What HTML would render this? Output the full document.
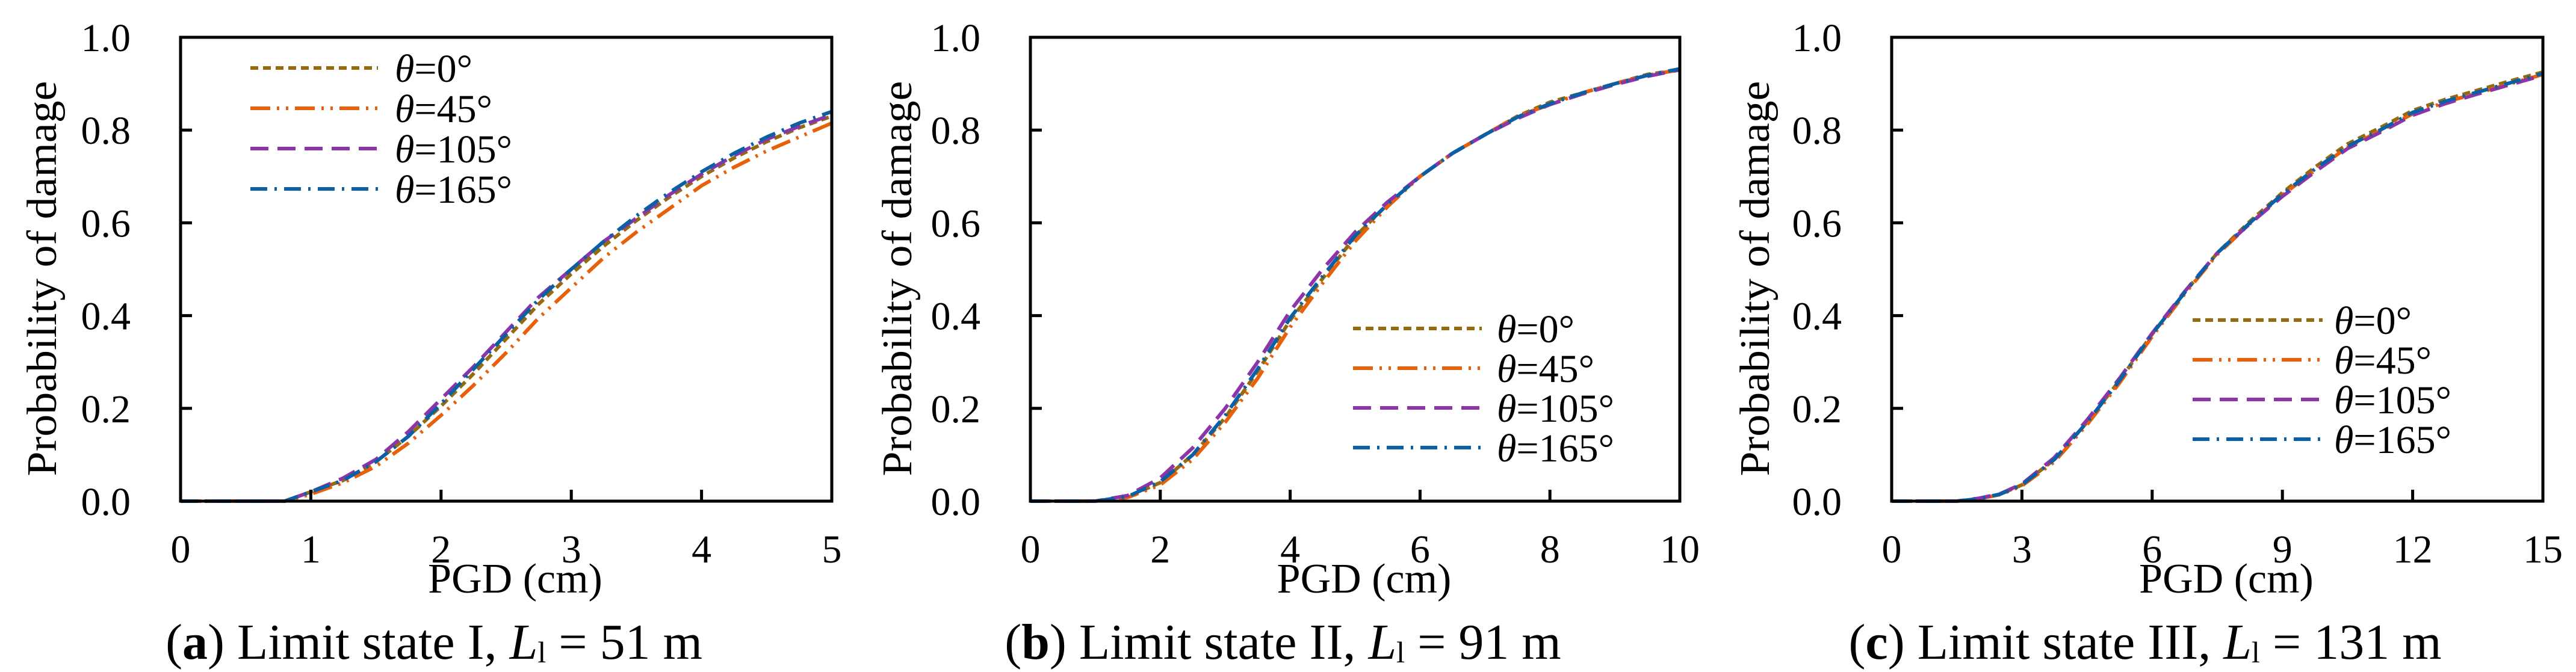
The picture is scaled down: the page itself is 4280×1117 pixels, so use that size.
<!DOCTYPE html>
<html><head><meta charset="utf-8"><style>
html,body{margin:0;padding:0;background:#fff;}
svg{display:block;font-family:"Liberation Serif","Times New Roman",serif;}
svg text{font-family:"Liberation Serif","Times New Roman",serif;}
</style></head><body>
<svg id="fig" width="4280" height="1117" viewBox="0 0 4280 1117" xmlns="http://www.w3.org/2000/svg" font-family="Liberation Serif, serif"></svg>
<script>
// ---- data ----
const seriesLabels = ["0°", "45°", "105°", "165°"];
const xA = [0,0.5,0.8,1,1.25,1.5,1.75,2,2.25,2.5,2.75,3,3.25,3.5,3.75,4,4.25,4.5,4.75,5];
const a0   = [0,0,0,0.02,0.045,0.085,0.14,0.205,0.275,0.35,0.425,0.49,0.55,0.605,0.655,0.70,0.74,0.775,0.805,0.83];
const a45  = [0,0,0,0.015,0.04,0.075,0.125,0.185,0.25,0.32,0.395,0.46,0.525,0.58,0.63,0.68,0.72,0.755,0.785,0.815];
const a105 = [0,0,0,0.02,0.05,0.09,0.15,0.22,0.29,0.365,0.44,0.50,0.56,0.61,0.66,0.705,0.745,0.78,0.808,0.833];
const a165 = [0,0,0,0.02,0.045,0.085,0.14,0.21,0.285,0.36,0.435,0.50,0.56,0.615,0.665,0.71,0.75,0.785,0.815,0.84];
const xB = [0,1,1.5,2,2.5,3,3.5,4,4.5,5,5.5,6,6.5,7,7.5,8,8.5,9,9.5,10];
const b0   = [0,0,0.01,0.04,0.1,0.18,0.28,0.39,0.48,0.57,0.64,0.70,0.75,0.79,0.83,0.86,0.88,0.90,0.92,0.93];
const b45  = [0,0,0.008,0.035,0.09,0.17,0.265,0.375,0.47,0.56,0.635,0.70,0.75,0.79,0.83,0.855,0.88,0.90,0.918,0.93];
const b105 = [0,0,0.012,0.05,0.115,0.2,0.3,0.41,0.5,0.58,0.645,0.70,0.75,0.79,0.825,0.855,0.878,0.898,0.916,0.93];
const b165 = [0,0,0.01,0.042,0.1,0.185,0.285,0.395,0.485,0.572,0.64,0.70,0.75,0.79,0.828,0.857,0.88,0.90,0.918,0.932];
const xC = [0,1.5,2,2.5,3,3.75,4.5,5.25,6,6.75,7.5,8.25,9,9.75,10.5,11.25,12,12.75,13.5,14.25,15];
const c0   = [0,0,0.005,0.015,0.035,0.09,0.17,0.26,0.36,0.45,0.535,0.603,0.665,0.72,0.77,0.805,0.842,0.866,0.886,0.906,0.925];
const c45  = [0,0,0.005,0.014,0.033,0.085,0.165,0.255,0.355,0.447,0.532,0.598,0.66,0.713,0.763,0.798,0.835,0.86,0.88,0.9,0.92];
const c105 = [0,0,0.006,0.016,0.037,0.094,0.175,0.265,0.362,0.452,0.535,0.598,0.657,0.71,0.76,0.795,0.832,0.857,0.878,0.898,0.918];
const c165 = [0,0,0.005,0.015,0.035,0.09,0.17,0.26,0.36,0.45,0.535,0.6,0.662,0.716,0.765,0.8,0.838,0.862,0.882,0.902,0.922];
const xTicksA = [0,1,2,3,4,5];
const xTicksB = [0,2,4,6,8,10];
const xTicksC = [0,3,6,9,12,15];
const yTicks = [0,0.2,0.4,0.6,0.8,1.0];

const NS = "http://www.w3.org/2000/svg";
const FONT = '"Liberation Serif", "Times New Roman", serif';
const svg = document.getElementById('fig');
const colors = ["#946B0F","#E8600A","#8B35A8","#0A5FA5"];
const dashes = ["13 8","33 11 4 11 4 11","30 15","28 12 4 12"];

function mk(tag, attrs, parent){
  const e = document.createElementNS(NS, tag);
  for (const k in attrs) e.setAttribute(k, attrs[k]);
  if (tag === 'text') e.style.fontFamily = FONT;
  (parent||svg).appendChild(e);
  return e;
}

const panels = [
  {id:"a", L:300, R:1382, xmax:5, xs:xA, ys:[a0,a45,a105,a165], ticks:xTicksA,
   leg:{x1:416,x2:628,tx:656,y0:113,dy:67}, ylabX:69, cap:["a","Limit state I, ","51 m"]},
  {id:"b", L:1712, R:2791, xmax:10, xs:xB, ys:[b0,b45,b105,b165], ticks:xTicksB,
   leg:{x1:2248,x2:2462,tx:2487,y0:546,dy:66}, ylabX:1490, cap:["b","Limit state II, ","91 m"]},
  {id:"c", L:3143, R:4225, xmax:15, xs:xC, ys:[c0,c45,c105,c165], ticks:xTicksC,
   leg:{x1:3643,x2:3859,tx:3878,y0:532,dy:66}, ylabX:2915, cap:["c","Limit state III, ","131 m"]}
];
const T = 62, B = 833;

panels.forEach(p => {
  const g = mk('g', {});
  
  
  const sx = v => p.L + (p.R - p.L) * v / p.xmax;
  const sy = v => B - (B - T) * v;

  p.ys.forEach((arr, si) => {
    let d = "";
    arr.forEach((v, i) => { d += (i ? "L" : "M") + sx(p.xs[i]).toFixed(1) + " " + sy(v).toFixed(1); });
    const path = mk('path', {d:d, fill:"none", stroke:colors[si], "stroke-width":6, "stroke-dasharray":dashes[si], "stroke-linejoin":"round"}, g);
    
    
  });

  const fr = mk('rect', {x:p.L, y:T, width:p.R-p.L, height:B-T, fill:"none", stroke:"#000", "stroke-width":5}, g);
  
  

  yTicks.forEach(v => {
    if (v > 0 && v < 1) mk('line', {x1:p.L, x2:p.L+19, y1:sy(v), y2:sy(v), stroke:"#000", "stroke-width":5}, g);
    const t = mk('text', {x:p.L-83, y:sy(v)+23, "font-size":66, "text-anchor":"end"}, g);
    t.textContent = v.toFixed(1);
    
    
  });
  p.ticks.forEach(v => {
    if (v > 0 && v < p.xmax) mk('line', {x1:sx(v), x2:sx(v), y1:B, y2:B-19, stroke:"#000", "stroke-width":5}, g);
    const t = mk('text', {x:sx(v), y:935, "font-size":66, "text-anchor":"middle"}, g);
    t.textContent = v;
    
    
  });

  const xt = mk('text', {x:(p.L+p.R)/2+15, y:985, "font-size":70, "text-anchor":"middle"}, g);
  xt.textContent = "PGD (cm)";
  
  
  const yt = mk('text', {x:0, y:0, "font-size":70, "text-anchor":"middle", transform:`translate(${p.ylabX+24},463) rotate(-90)`, textLength:657, lengthAdjust:"spacingAndGlyphs"}, g);
  yt.textContent = "Probability of damage";
  
  

  const lg = mk('g', {}, g);
  
  
  seriesLabels.forEach((lab, si) => {
    const y = p.leg.y0 + p.leg.dy * si;
    mk('line', {x1:p.leg.x1, x2:p.leg.x2, y1:y, y2:y, stroke:colors[si], "stroke-width":6, "stroke-dasharray":dashes[si]}, lg);
    const t = mk('text', {x:p.leg.tx, y:y+23, "font-size":66}, lg);
    
    
    const th = mk('tspan', {"font-style":"italic"}, t); th.textContent = "θ";
    const rest = mk('tspan', {}, t); rest.textContent = "=" + lab;
  });

  const cx = (p.L+p.R)/2 - 120;
  const cap = mk('text', {x:cx, y:1095, "font-size":84, "text-anchor":"middle"}, g);
  
  
  let s = mk('tspan', {}, cap); s.textContent = "(";
  s = mk('tspan', {"font-weight":"bold"}, cap); s.textContent = p.cap[0];
  s = mk('tspan', {}, cap); s.textContent = ") " + p.cap[1];
  s = mk('tspan', {"font-style":"italic"}, cap); s.textContent = "L";
  s = mk('tspan', {"font-size":50, dy:6}, cap); s.textContent = "l";
  s = mk('tspan', {dy:-6}, cap); s.textContent = " = " + p.cap[2];
});
</script>
</body></html>
